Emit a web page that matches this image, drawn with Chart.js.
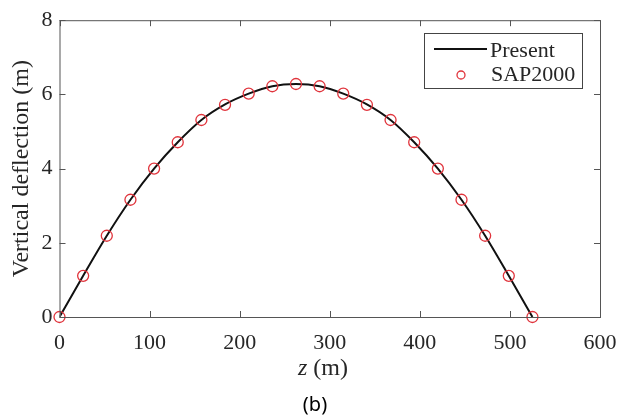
<!DOCTYPE html>
<html>
<head>
<meta charset="utf-8">
<script src="https://cdn.jsdelivr.net/npm/chart.js@4"></script>
<style>
  body { margin: 0; background: #fff; }
  #wrap { width: 631px; height: 417px; position: relative; }
</style>
</head>
<body>
<div id="wrap"><canvas id="chart"></canvas></div>
<script>
var zValues = [0, 26.25, 52.5, 78.75, 105, 131.25, 157.5, 183.75, 210, 236.25, 262.5,
               288.75, 315, 341.25, 367.5, 393.75, 420, 446.25, 472.5, 498.75, 525];
var presentDeflection = [0, 1.11, 2.19, 3.16, 4.0, 4.71, 5.31, 5.73, 6.02, 6.22, 6.28,
                         6.22, 6.02, 5.73, 5.31, 4.71, 4.0, 3.16, 2.19, 1.11, 0];
var sapDeflection = [0, 1.11, 2.19, 3.16, 4.0, 4.71, 5.31, 5.72, 6.02, 6.22, 6.28,
                     6.22, 6.02, 5.72, 5.31, 4.71, 4.0, 3.16, 2.19, 1.11, 0];
var xTicks = [0, 100, 200, 300, 400, 500, 600];
var yTicks = [0, 2, 4, 6, 8];

var serif = '"Liberation Serif", "Times New Roman", serif';
var frameColor = '#555';
var textColor = '#262626';

function pts(xs, ys) {
    return xs.map(function (x, i) { return { x: x, y: ys[i] }; });
}

// box, inward ticks on all four sides, x title, caption, legend
var decor = {
    id: 'decor',
    afterDraw: function (chart) {
        var c = chart.ctx, a = chart.chartArea;
        var sx = chart.scales.x, sy = chart.scales.y;
        c.save();
        c.strokeStyle = frameColor;
        c.lineWidth = 1;
        c.strokeRect(a.left + 0.5, a.top + 0.5, a.right - a.left, a.bottom - a.top);
        c.beginPath();
        xTicks.forEach(function (t) {
            var px = Math.round(sx.getPixelForValue(t)) + 0.5;
            c.moveTo(px, a.bottom); c.lineTo(px, a.bottom - 6);
            c.moveTo(px, a.top); c.lineTo(px, a.top + 6);
        });
        yTicks.forEach(function (t) {
            var py = Math.round(sy.getPixelForValue(t)) + 0.5;
            c.moveTo(a.left, py); c.lineTo(a.left + 6, py);
            c.moveTo(a.right, py); c.lineTo(a.right - 6, py);
        });
        c.stroke();

        // x title with italic z
        c.fillStyle = textColor;
        c.textBaseline = 'alphabetic';
        c.textAlign = 'left';
        var fItal = 'italic 24px ' + serif, fReg = '24px ' + serif;
        c.font = fItal; var w1 = c.measureText('z').width;
        c.font = fReg; var w2 = c.measureText(' (m)').width;
        var cx = 323;
        var x0 = cx - (w1 + w2) / 2;
        c.font = fItal; c.fillText('z', x0, 375);
        c.font = fReg; c.fillText(' (m)', x0 + w1, 375);

        // caption
        c.font = '20px "Noto Sans", "Open Sans", sans-serif';
        c.fillStyle = '#000';
        c.textAlign = 'center';
        c.fillText('(b)', 315, 411);

        // legend
        var bx = 424.5, by = 33.5, bw = 158, bh = 55;
        c.fillStyle = '#fff';
        c.fillRect(bx, by, bw, bh);
        c.strokeStyle = '#444';
        c.lineWidth = 1;
        c.strokeRect(bx, by, bw, bh);
        var ds = chart.data.datasets;
        c.strokeStyle = ds[0].borderColor;
        c.lineWidth = 2;
        c.beginPath(); c.moveTo(434, 49); c.lineTo(487, 49); c.stroke();
        c.strokeStyle = ds[1].borderColor;
        c.lineWidth = 1.3;
        c.beginPath(); c.arc(461, 75, 4, 0, Math.PI * 2); c.stroke();
        c.fillStyle = textColor;
        c.textAlign = 'left';
        c.font = '22px ' + serif;
        c.fillText(ds[0].label, 490, 57);
        c.fillText(ds[1].label, 491, 81);
        c.restore();
    }
};

new Chart(document.getElementById('chart'), {
    type: 'scatter',
    data: {
        datasets: [{
            label: 'Present',
            data: pts(zValues, presentDeflection),
            showLine: true,
            borderColor: '#111',
            borderWidth: 2,
            pointRadius: 0,
            cubicInterpolationMode: 'monotone',
            order: 2
        }, {
            label: 'SAP2000',
            data: pts(zValues, sapDeflection),
            showLine: false,
            pointStyle: 'circle',
            pointRadius: 5.5,
            pointBorderWidth: 1.3,
            borderColor: '#e0343c',
            backgroundColor: 'rgba(0,0,0,0)',
            clip: false,
            order: 1
        }]
    },
    options: {
        responsive: true,
        maintainAspectRatio: false,
        animation: false,
        events: [],
        layout: {
            padding: { top: 17, right: 31, left: 0, bottom: 0 }
        },
        plugins: {
            legend: { display: false },
            tooltip: { enabled: false }
        },
        scales: {
            x: {
                type: 'linear',
                min: 0,
                max: 600,
                afterBuildTicks: function (s) { s.ticks = xTicks.map(function (v) { return { value: v }; }); },
                afterFit: function (s) { s.height = 100; },
                grid: { display: false, drawTicks: false },
                border: { display: false },
                ticks: {
                    padding: 13,
                    color: textColor,
                    font: { family: serif, size: 22 }
                }
            },
            y: {
                type: 'linear',
                min: 0,
                max: 8,
                afterBuildTicks: function (s) { s.ticks = yTicks.map(function (v) { return { value: v }; }); },
                afterFit: function (s) { s.width = 59.5; },
                grid: { display: false, drawTicks: false },
                border: { display: false },
                ticks: {
                    padding: 7,
                    color: textColor,
                    font: { family: serif, size: 22 }
                },
                title: {
                    display: true,
                    text: 'Vertical deflection (m)',
                    color: textColor,
                    font: { family: serif, size: 24 },
                    padding: { top: 7, bottom: 0 }
                }
            }
        }
    },
    plugins: [decor]
});
</script>
</body>
</html>
